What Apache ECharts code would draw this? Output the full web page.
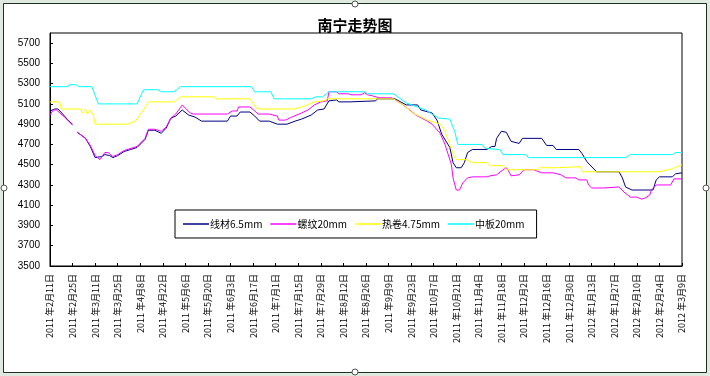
<!DOCTYPE html>
<html>
<head>
<meta charset="utf-8">
<script src="https://cdn.jsdelivr.net/npm/echarts@6/dist/echarts.min.js"></script>
<style>
html,body{margin:0;padding:0;background:#dfe9df;}
#c{width:710px;height:376px;}
</style>
</head>
<body>
<div id="c"></div>
<script>
// x = days since 2011-02-11
var xTickLabels = ['2011 年2月11日','2011 年2月25日','2011 年3月11日','2011 年3月25日','2011 年4月8日','2011 年4月22日','2011 年5月6日','2011 年5月20日','2011 年6月3日','2011 年6月17日','2011 年7月1日','2011 年7月15日','2011 年7月29日','2011 年8月12日','2011 年8月26日','2011 年9月9日','2011 年9月23日','2011 年10月7日','2011 年10月21日','2011 年11月4日','2011 年11月18日','2011 年12月2日','2011 年12月16日','2011 年12月30日','2012 年1月13日','2012 年1月27日','2012 年2月10日','2012 年2月24日','2012 年3月9日'];
var yTickLabels = [3500,3700,3900,4100,4300,4500,4700,4900,5100,5300,5500,5700];
var seriesNames = ['线材6.5mm','螺纹20mm','热卷4.75mm','中板20mm'];

var wire = [[0,5030],[3,5050],[5,5050],[9,4980],[11,4940],[14,4900],[15,null],[17,4820],[22,4760],[25,4680],[28,4570],[32,4580],[34,4600],[37,4590],[39,4570],[42,4590],[46,4630],[50,4650],[54,4670],[59,4750],[61,4840],[65,4840],[69,4810],[72,4860],[75,4960],[78,4980],[82,5040],[86,4990],[90,4970],[94,4930],[110,4930],[112,4980],[116,4980],[118,5020],[124,5020],[127,4980],[130,4930],[136,4930],[141,4900],[147,4900],[152,4930],[156,4950],[162,4990],[166,5040],[170,5050],[173,5130],[178,5140],[179,5120],[186,5120],[187,5130],[202,5130],[203,5150],[214,5150],[221,5090],[228,5090],[230,5040],[237,5010],[240,4940],[243,4800],[248,4670],[250,4520],[252,4470],[255,4470],[257,4520],[259,4620],[262,4650],[271,4650],[274,4680],[276,4680],[277,4760],[280,4830],[283,4820],[286,4730],[291,4710],[293,4760],[305,4760],[308,4690],[312,4690],[314,4650],[328,4650],[330,4610],[333,4530],[339,4430],[353,4430],[355,4370],[357,4280],[361,4250],[374,4250],[376,4350],[378,4380],[386,4380],[388,4410],[392,4420]];
var rebar = [[0,4990],[2,5040],[4,5040],[9,4970],[11,4940],[14,4890],[15,null],[17,4820],[22,4760],[25,4690],[28,4590],[31,4550],[34,4620],[36,4620],[39,4580],[42,4600],[46,4640],[54,4680],[59,4760],[61,4850],[65,4850],[69,4830],[72,4870],[75,4960],[78,5000],[82,5090],[87,5010],[89,5000],[110,5000],[113,5030],[116,5030],[117,5070],[124,5070],[127,5030],[129,5000],[136,5000],[141,4980],[142,4940],[146,4940],[150,4970],[156,5010],[160,5040],[164,5090],[168,5120],[172,5130],[173,5220],[178,5220],[179,5200],[185,5200],[187,5190],[193,5190],[195,5210],[197,5190],[200,5180],[204,5160],[212,5160],[219,5090],[227,4990],[234,4930],[237,4900],[242,4810],[245,4700],[247,4600],[249,4500],[250,4370],[252,4250],[254,4250],[256,4320],[259,4370],[262,4380],[271,4380],[273,4390],[277,4400],[281,4450],[283,4470],[284,4450],[286,4390],[291,4400],[294,4450],[300,4450],[305,4420],[312,4420],[317,4400],[320,4370],[326,4370],[328,4350],[333,4350],[334,4300],[336,4270],[343,4270],[344,4280],[353,4280],[356,4230],[360,4180],[364,4180],[367,4160],[369,4170],[372,4200],[373,4250],[376,4300],[385,4300],[387,4360],[392,4360]];
var hotCoil = [[0,5120],[6,5120],[7,5050],[19,5050],[20,5010],[22,5050],[23,5000],[25,5040],[27,4980],[28,4900],[48,4900],[53,4930],[58,5040],[61,5120],[77,5120],[81,5170],[102,5170],[103,5150],[124,5150],[128,5060],[130,5050],[152,5050],[158,5080],[164,5120],[170,5130],[172,5150],[213,5150],[219,5090],[225,5010],[234,4940],[242,4900],[245,4830],[248,4700],[251,4570],[252,4550],[258,4550],[262,4520],[271,4520],[273,4490],[281,4490],[283,4450],[303,4450],[304,4470],[314,4470],[315,4480],[329,4480],[330,4430],[378,4430],[386,4460],[392,4500]];
var plate = [[0,5270],[11,5270],[12,5290],[16,5290],[18,5270],[26,5270],[30,5100],[54,5100],[58,5240],[67,5240],[69,5220],[77,5220],[81,5270],[125,5270],[127,5220],[137,5220],[139,5150],[162,5150],[165,5170],[169,5170],[173,5220],[195,5220],[197,5200],[213,5200],[221,5110],[233,5040],[241,4960],[248,4950],[251,4830],[253,4700],[268,4700],[270,4660],[279,4650],[281,4600],[295,4600],[297,4570],[357,4570],[360,4600],[386,4600],[388,4620],[392,4620]];

var colors = ['#000080','#ff00ff','#ffff00','#00ffff'];
var cjk = '"Noto Sans CJK SC", sans-serif';

var chart = echarts.init(document.getElementById('c'), null, {renderer:'canvas'});
function mk(name, data, color){
  return {name:name, type:'line', data:data, showSymbol:false, symbol:'none', connectNulls:false,
    lineStyle:{color:color, width:1}, itemStyle:{color:color}, animation:false};
}
chart.setOption({
  animation:false,
  backgroundColor:'transparent',
  graphic:[
    {type:'rect', shape:{x:3.5,y:3.5,width:703,height:369}, style:{fill:'#ffffff', stroke:'#203020', lineWidth:1}, z:-10},
    {type:'circle', shape:{cx:4,cy:188,r:3}, style:{fill:'#fff', stroke:'#555'}},
    {type:'circle', shape:{cx:706,cy:188,r:3}, style:{fill:'#fff', stroke:'#555'}},
    {type:'circle', shape:{cx:355,cy:4,r:3}, style:{fill:'#fff', stroke:'#555'}},
    {type:'circle', shape:{cx:355,cy:372,r:3}, style:{fill:'#fff', stroke:'#555'}}
  ],
  title:{text:'南宁走势图', left:'center', top:13, textStyle:{fontFamily:cjk, fontSize:15, fontWeight:'bold', color:'#000'}},
  legend:{
    data:seriesNames, left:175, top:210, orient:'horizontal',
    backgroundColor:'#fff', borderColor:'#000', borderWidth:1, padding:[9,12,9,8],
    icon:'rect', itemWidth:26, itemHeight:1.5, itemGap:8,
    textStyle:{fontFamily:cjk, fontSize:10, color:'#000', padding:[0,0,0,-4]}
  },
  grid:{left:50, right:28, top:33, bottom:110, show:true, borderColor:'#000', borderWidth:1, backgroundColor:'#fff'},
  xAxis:{
    type:'value', min:0, max:392, interval:14,
    axisLine:{lineStyle:{color:'#000'}},
    axisTick:{inside:true, length:3, lineStyle:{color:'#000'}},
    splitLine:{show:false},
    axisLabel:{rotate:90, fontFamily:cjk, fontSize:9, color:'#000', margin:8,
      formatter:function(v){ return xTickLabels[Math.round(v/14)] || ''; }}
  },
  yAxis:{
    type:'value', min:3500, max:5800,
    axisLine:{show:true, lineStyle:{color:'#000'}},
    axisTick:{show:true, inside:true, length:3, lineStyle:{color:'#000'}, customValues:yTickLabels},
    splitLine:{show:false},
    axisLabel:{fontFamily:'"Liberation Sans", Arial, sans-serif', fontSize:10, color:'#000', margin:10, customValues:yTickLabels,
      formatter:function(v){ return String(v); }}
  },
  series:[mk(seriesNames[0], wire, colors[0]), mk(seriesNames[1], rebar, colors[1]), mk(seriesNames[2], hotCoil, colors[2]), mk(seriesNames[3], plate, colors[3])]
});
</script>
</body>
</html>
